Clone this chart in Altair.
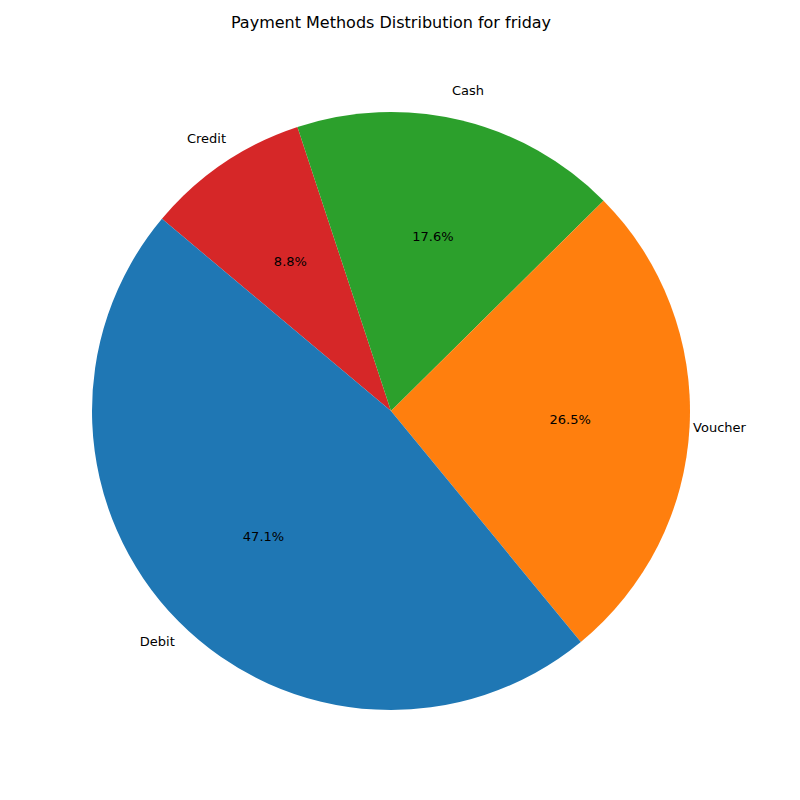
import altair as alt
import pandas as pd
import math

methods = ["Credit", "Cash", "Voucher", "Debit"]
counts = [3, 6, 9, 16]
colors = ["#d62728", "#2ca02c", "#ff7f0e", "#1f77b4"]
pcts = ["8.8%", "17.6%", "26.5%", "47.1%"]

df = pd.DataFrame({"method": methods, "count": counts, "pct": pcts, "ord": list(range(4))})
start = math.radians(310)
cx, cy, R = 383, 403, 299

base = alt.Chart(df).encode(
    theta=alt.Theta("count:Q", stack=True, scale=alt.Scale(range=[start, start + 2 * math.pi])),
    order=alt.Order("ord:Q"),
)
arc = base.mark_arc(x=cx, y=cy, outerRadius=R).encode(
    color=alt.Color("method:N", scale=alt.Scale(domain=methods, range=colors), legend=None)
)
pct = base.mark_text(x=cx, y=cy, radius=R * 0.6, fontSize=13, font="DejaVu Sans").encode(text="pct:N")
lab = base.mark_text(x=cx, y=cy, radius=R * 1.1, fontSize=13, font="DejaVu Sans").encode(text="method:N")
title = alt.Chart(pd.DataFrame({"t": ["Payment Methods Distribution for friday"]})).mark_text(
    x=cx, y=15, fontSize=16, font="DejaVu Sans").encode(text="t:N")

chart = alt.layer(arc, pct, lab, title).properties(
    width=784, height=784, autosize=alt.AutoSizeParams(type="none"), padding=0
).configure_view(stroke=None)
chart.save("out.html", embed_options={"renderer": "svg", "actions": False})
